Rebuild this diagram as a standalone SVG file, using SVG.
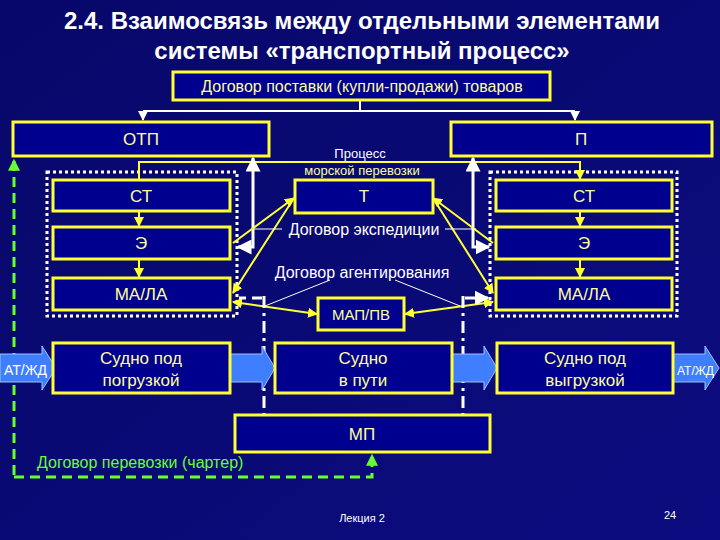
<svg xmlns="http://www.w3.org/2000/svg" width="720" height="540" viewBox="0 0 720 540">
<defs>
<linearGradient id="bg" x1="0" y1="0" x2="1" y2="1"><stop offset="0" stop-color="#07076a"/><stop offset="1" stop-color="#0c0c80"/></linearGradient>
<marker id="ay" viewBox="0 0 10 10" refX="9" refY="5" markerWidth="5" markerHeight="5" orient="auto-start-reverse"><path d="M0,0L10,5L0,10z" fill="#ffff33"/></marker>
<marker id="aw" viewBox="0 0 10 10" refX="9" refY="5" markerWidth="5" markerHeight="5" orient="auto-start-reverse"><path d="M0,0L10,5L0,10z" fill="#ffffff"/></marker>
<marker id="ag" viewBox="0 0 10 10" refX="9" refY="5" markerWidth="4" markerHeight="4" orient="auto"><path d="M0,0L10,5L0,10z" fill="#66ff33"/></marker>
<style>
.b{fill:#00008f;stroke:#ffff33;stroke-width:3}
.t{font-family:"Liberation Sans",Arial,sans-serif;fill:#ffff99;text-anchor:middle;font-size:17px}
.w{font-family:"Liberation Sans",Arial,sans-serif;fill:#ffffff;text-anchor:middle;font-size:16px}
.dot{fill:none;stroke:#ffffff;stroke-width:3;stroke-dasharray:3 3}
.blk{fill:#3f7fff;stroke:#9fbfff;stroke-width:1}
</style>
</defs>
<rect width="720" height="540" fill="url(#bg)"/>
<text x="362" y="29" class="w" style="font-size:24px;font-weight:bold">2.4. Взаимосвязь между отдельными элементами</text>
<text x="362" y="59" class="w" style="font-size:24px;font-weight:bold">системы «транспортный процесс»</text>

<rect x="47" y="172" width="190" height="144" class="dot"/>
<rect x="490" y="172" width="187" height="144" class="dot"/>

<g id="connectors" fill="none">
<path d="M360,100V111M143,111H575" stroke="#fff" stroke-width="2"/>
<path d="M143,111V120" stroke="#fff" stroke-width="2" marker-end="url(#aw)"/>
<path d="M575,111V120" stroke="#fff" stroke-width="2" marker-end="url(#aw)"/>
<path d="M139,180V162H580V179" stroke="#ffff33" stroke-width="2" marker-end="url(#ay)"/>
<path d="M139,212V226" stroke="#ffff33" stroke-width="2" marker-end="url(#ay)"/>
<path d="M139,260V277" stroke="#ffff33" stroke-width="2" marker-end="url(#ay)"/>
<path d="M580,212V226" stroke="#ffff33" stroke-width="2" marker-end="url(#ay)"/>
<path d="M580,260V277" stroke="#ffff33" stroke-width="2" marker-end="url(#ay)"/>
<path d="M238,247H253V158" stroke="#fff" stroke-width="3" marker-start="url(#aw)" marker-end="url(#aw)"/>
<path d="M489,247H473V158" stroke="#fff" stroke-width="3" marker-start="url(#aw)" marker-end="url(#aw)"/>
<path d="M294,198L233,243M294,198L233,293" stroke="#ffff33" stroke-width="2" marker-start="url(#ay)" marker-end="url(#ay)"/>
<path d="M433,198L493,243M433,198L493,293" stroke="#ffff33" stroke-width="2" marker-start="url(#ay)" marker-end="url(#ay)"/>
<path d="M233,302L317,314" stroke="#ffff33" stroke-width="2" marker-start="url(#ay)" marker-end="url(#ay)"/>
<path d="M493,302L405,314" stroke="#ffff33" stroke-width="2" marker-start="url(#ay)" marker-end="url(#ay)"/>
<path d="M253,229H282M445,229H476M265,306L330,280M460,306L395,280" stroke="#fff" stroke-width="1"/>
<path d="M262,298H239M465,298H488" stroke="#fff" stroke-width="3" stroke-dasharray="10 6" marker-end="url(#aw)"/>
<path d="M264,296V415M463,296V415" stroke="#fff" stroke-width="3" stroke-dasharray="12 5 3 5"/>
<path d="M14,475V160" stroke="#66ff33" stroke-width="3" stroke-dasharray="10 6" marker-end="url(#ag)"/>
<path d="M14,477H372V455" stroke="#66ff33" stroke-width="3" stroke-dasharray="10 6" marker-end="url(#ag)"/>
<path d="M230,354H262V346L275,368L262,390V382H230Z" class="blk"/>
<path d="M452,354H484V346L497,368L484,390V382H452Z" class="blk"/>
<path d="M0,354H42V346L56,368L42,390V382H0Z" class="blk"/>
<path d="M673,354H705V346L719,368L705,390V382H673Z" class="blk"/>
</g>

<g id="dogovor"><rect x="173" y="72" width="377" height="28" class="b"/><text x="362" y="92" class="t" style="font-size:16px">Договор поставки (купли-продажи) товаров</text></g>
<g id="otp"><rect x="13" y="122" width="256" height="34" class="b"/><text x="141" y="145" class="t">ОТП</text></g>
<g id="p"><rect x="451" y="122" width="261" height="34" class="b"/><text x="581" y="145" class="t">П</text></g>
<g id="process"><text x="360" y="158" class="w" style="font-size:13px">Процесс</text><text x="362" y="175" class="t" style="font-size:13px">морской перевозки</text></g>
<g id="st1"><rect x="53" y="180" width="177" height="31" class="b"/><text x="141" y="202" class="t">СТ</text></g>
<g id="e1"><rect x="53" y="227" width="177" height="32" class="b"/><text x="141" y="249" class="t">Э</text></g>
<g id="ma1"><rect x="53" y="278" width="177" height="32" class="b"/><text x="141" y="300" class="t">МА/ЛА</text></g>
<g id="st2"><rect x="496" y="180" width="176" height="31" class="b"/><text x="584" y="202" class="t">СТ</text></g>
<g id="e2"><rect x="496" y="227" width="176" height="32" class="b"/><text x="584" y="249" class="t">Э</text></g>
<g id="ma2"><rect x="496" y="278" width="176" height="32" class="b"/><text x="584" y="300" class="t">МА/ЛА</text></g>
<g id="t"><rect x="295" y="180" width="138" height="33" class="b"/><text x="364" y="202" class="t">Т</text></g>
<g id="lbl-exp"><text x="364" y="235" class="w">Договор экспедиции</text></g>
<g id="lbl-ag"><text x="362" y="278" class="w">Договор агентирования</text></g>
<g id="map"><rect x="318" y="298" width="86" height="32" class="b"/><text x="361" y="320" class="t" style="font-size:15px">МАП/ПВ</text></g>
<g id="s1"><rect x="53" y="343" width="177" height="50" class="b"/><text x="141" y="364" class="t">Судно под</text><text x="141" y="386" class="t">погрузкой</text></g>
<g id="s2"><rect x="275" y="343" width="177" height="50" class="b"/><text x="363" y="364" class="t">Судно</text><text x="363" y="386" class="t">в пути</text></g>
<g id="s3"><rect x="497" y="343" width="176" height="50" class="b"/><text x="585" y="364" class="t">Судно под</text><text x="585" y="386" class="t">выгрузкой</text></g>
<g id="atl"><text x="4" y="375" class="w" style="text-anchor:start;font-size:14px">АТ/ЖД</text></g>
<g id="atr"><text x="677" y="375" class="w" style="text-anchor:start;font-size:12px">АТ/ЖД</text></g>
<g id="mp"><rect x="235" y="415" width="255" height="37" class="b"/><text x="362" y="440" class="t">МП</text></g>
<g id="charter"><text x="37" y="468" class="w" style="text-anchor:start;fill:#66ff33">Договор перевозки (чартер)</text></g>
<text x="362" y="522" class="w" style="font-size:11px">Лекция 2</text>
<text x="670" y="519" class="w" style="font-size:11px">24</text>
</svg>
